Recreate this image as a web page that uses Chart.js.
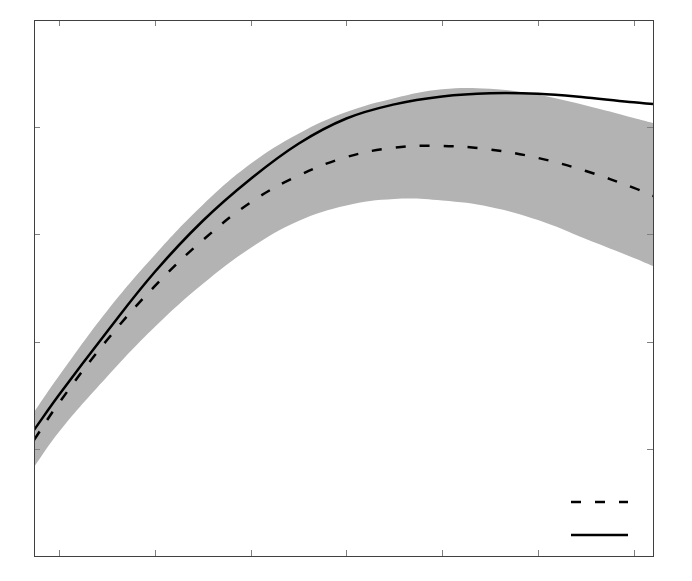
<!DOCTYPE html>
<html>
<head>
<meta charset="utf-8">
<script src="https://cdn.jsdelivr.net/npm/chart.js@4"></script>
<style>
  html, body { margin: 0; padding: 0; background: #fff; }
  #wrap { width: 692px; height: 581px; }
</style>
</head>
<body>
<div id="wrap"><canvas id="myChart" width="692" height="581"></canvas></div>
<script>
// values
const xValues = [-0.26, 0, 0.5, 1, 1.5, 2, 2.5, 3, 3.5, 4, 4.5, 5, 5.5, 6, 6.2];
const bandUpper = [1.343, 1.679, 2.283, 2.808, 3.274, 3.659, 3.94, 4.142, 4.271, 4.354, 4.358, 4.302, 4.202, 4.086, 4.039];
const bandLower = [0.83, 1.157, 1.67, 2.136, 2.537, 2.873, 3.125, 3.27, 3.33, 3.316, 3.256, 3.134, 2.957, 2.78, 2.705];
const dashedSeries = [1.082, 1.427, 2.012, 2.517, 2.945, 3.298, 3.548, 3.721, 3.809, 3.826, 3.792, 3.713, 3.591, 3.434, 3.358];
const solidSeries = [1.175, 1.502, 2.09, 2.649, 3.125, 3.517, 3.846, 4.081, 4.213, 4.287, 4.317, 4.312, 4.278, 4.232, 4.216];
const xTicks = [0, 1, 2, 3, 4, 5, 6];
const yTicks = [1, 2, 3, 4];

const dash = [10, 14];

function points(ys) {
  return xValues.map((x, i) => ({ x, y: ys[i] }));
}

// frame + inward tick marks on all four sides
const frameTicks = {
  id: "frameTicks",
  afterDatasetsDraw(chart) {
    const { ctx, chartArea: a, scales } = chart;
    ctx.save();
    ctx.lineWidth = 1;
    ctx.strokeStyle = "#808080";
    ctx.beginPath();
    xTicks.forEach((t) => {
      const px = Math.round(scales.x.getPixelForValue(t)) + 0.5;
      ctx.moveTo(px, a.bottom);
      ctx.lineTo(px, a.bottom - 6);
      ctx.moveTo(px, a.top);
      ctx.lineTo(px, a.top + 6);
    });
    yTicks.forEach((t) => {
      const py = Math.round(scales.y.getPixelForValue(t)) + 0.5;
      ctx.moveTo(a.left, py);
      ctx.lineTo(a.left + 6, py);
      ctx.moveTo(a.right, py);
      ctx.lineTo(a.right - 6, py);
    });
    ctx.stroke();
    ctx.strokeStyle = "#404040";
    ctx.strokeRect(Math.round(a.left) + 0.5, Math.round(a.top) + 0.5,
      Math.round(a.right - a.left), Math.round(a.bottom - a.top));

    // legend samples, no text
    const x1 = a.right - 82;
    const x2 = a.right - 25;
    ctx.lineWidth = 2.5;
    ctx.strokeStyle = "#000";
    ctx.setLineDash(dash);
    ctx.beginPath();
    ctx.moveTo(x1, a.bottom - 54);
    ctx.lineTo(x2, a.bottom - 54);
    ctx.stroke();
    ctx.setLineDash([]);
    ctx.beginPath();
    ctx.moveTo(x1, a.bottom - 21);
    ctx.lineTo(x2, a.bottom - 21);
    ctx.stroke();
    ctx.restore();
  },
};

const ctx = document.getElementById("myChart").getContext("2d");
const myChart = new Chart(ctx, {
  type: "line",
  data: {
    datasets: [
      {
        label: "solid",
        data: points(solidSeries),
        borderColor: "#000",
        borderWidth: 2.5,
        fill: false,
      },
      {
        label: "dashed",
        data: points(dashedSeries),
        borderColor: "#000",
        borderWidth: 2.5,
        borderDash: dash,
        fill: false,
      },
      {
        label: "lower",
        data: points(bandLower),
        borderWidth: 0,
        borderColor: "rgba(0,0,0,0)",
        fill: false,
      },
      {
        label: "upper",
        data: points(bandUpper),
        borderWidth: 0,
        borderColor: "rgba(0,0,0,0)",
        backgroundColor: "#b3b3b3",
        fill: "-1",
      },
    ],
  },
  options: {
    responsive: false,
    animation: false,
    elements: {
      point: { radius: 0 },
      line: { tension: 0.4 },
    },
    layout: {
      padding: { left: 34, top: 20, right: 39, bottom: 25 },
    },
    scales: {
      x: { type: "linear", min: -0.26, max: 6.2, display: false },
      y: { type: "linear", min: 0, max: 5, display: false },
    },
    plugins: {
      legend: { display: false },
      tooltip: { enabled: false },
    },
  },
  plugins: [frameTicks],
});
</script>
</body>
</html>
